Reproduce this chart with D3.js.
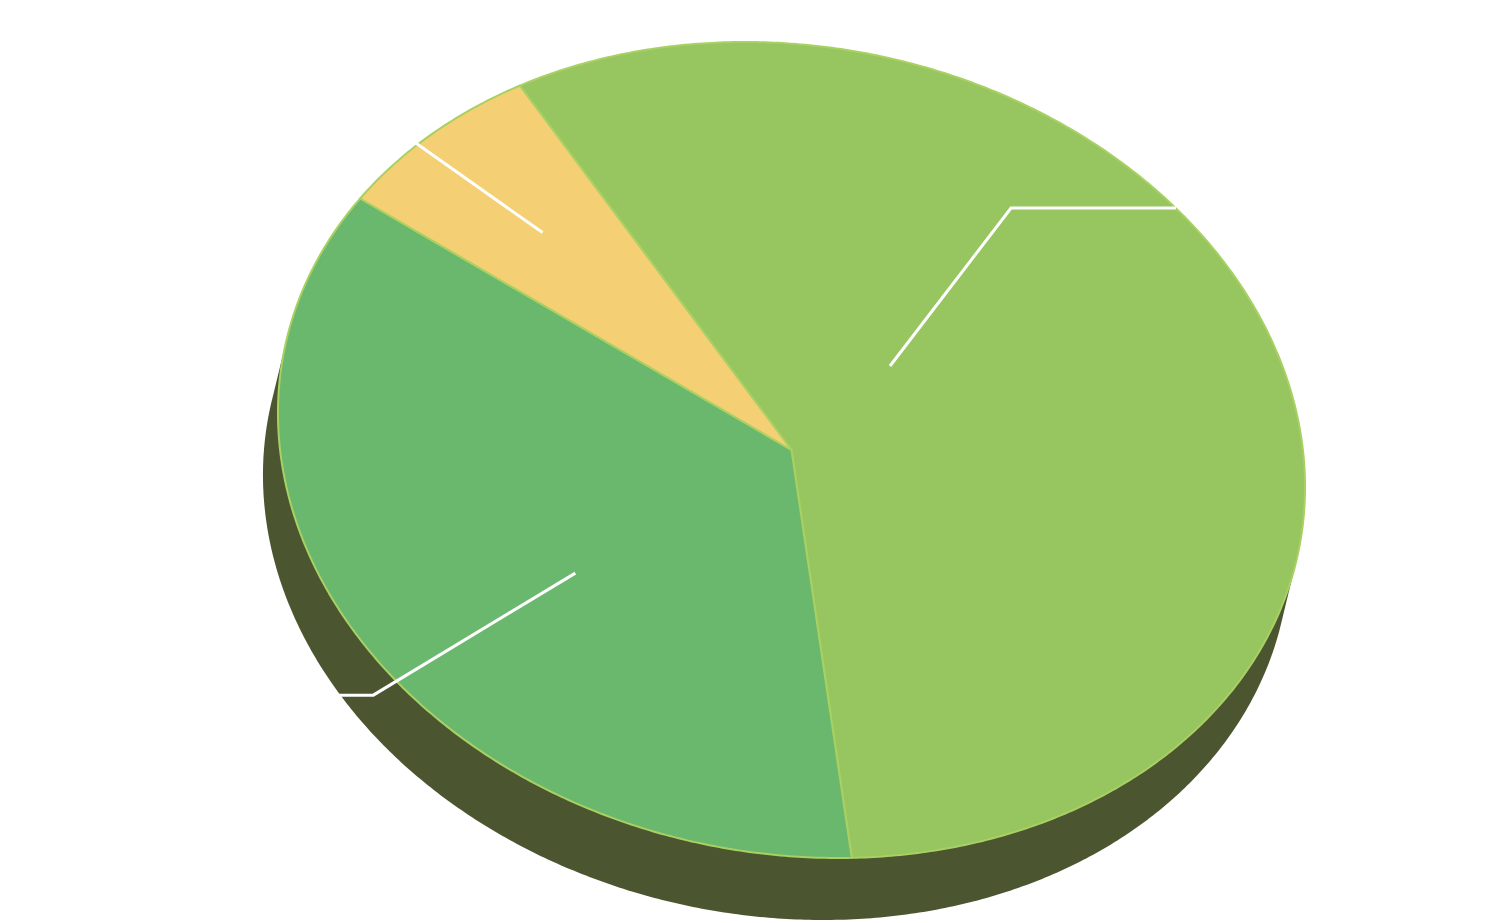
<!DOCTYPE html>
<html>
<head>
<meta charset="utf-8">
<script src="https://cdn.jsdelivr.net/npm/d3@7"></script>
<style>
  html, body { margin: 0; padding: 0; background: #ffffff; }
  svg { display: block; }
</style>
</head>
<body>
<svg id="chart" width="1491" height="923"></svg>
<script>
// ---- data ----
const categories = ["Segment A", "Segment B", "Segment C"];
const values = [57, 36, 7];
const colors = ["#97c560", "#6ab86e", "#f5cf73"];

// ---- layout ----
const W = 1491, H = 923;
const cx = 791.5, cy = 450;          // centre of top face
const rx = 517, ry = 403.6;          // ellipse semi-axes
const tilt = 10.66 * Math.PI / 180;  // rotation of ellipse
const depth = [-15, 62];             // extrusion offset
const startDeg = -40.3;

const svg = d3.select("#chart");

function proj(t, r = 1, off = [0, 0]) {
  const x = rx * r * Math.sin(t), y = -ry * r * Math.cos(t);
  const c = Math.cos(tilt), s = Math.sin(tilt);
  return [cx + x * c - y * s + off[0], cy + x * s + y * c + off[1]];
}

const pie = d3.pie().sort(null).value(d => d)
  .startAngle(startDeg * Math.PI / 180)
  .endAngle(startDeg * Math.PI / 180 + 2 * Math.PI);
const arcs = pie(values);

// ---- side (extrusion) ----
const ring = d3.range(0, 720).map(i => i / 720 * 2 * Math.PI);
const allPts = ring.map(t => proj(t)).concat(ring.map(t => proj(t, 1, depth)));
const hull = d3.polygonHull(allPts);
svg.append("path")
  .attr("d", "M" + hull.map(p => p.join(",")).join("L") + "Z")
  .attr("fill", "#4b5631");

// ---- top face slices ----
const line = d3.line();
svg.append("g").selectAll("path")
  .data(arcs)
  .join("path")
  .attr("d", d => {
    const n = Math.max(8, Math.ceil((d.endAngle - d.startAngle) / (Math.PI / 360)));
    const pts = [[cx, cy]];
    for (let i = 0; i <= n; i++) {
      pts.push(proj(d.startAngle + (d.endAngle - d.startAngle) * i / n));
    }
    return line(pts) + "Z";
  })
  .attr("fill", (d, i) => colors[i])
  .attr("stroke", "#a9d062")
  .attr("stroke-width", 2)
  .attr("stroke-linejoin", "round");

// ---- leader lines & labels (white) ----
// anchor on face: [angle deg, radius fraction]; then elbow offsets
const anchors = [[32.2, 0.295], [222.6, 0.542], [307, 0.69]];
const elbows = [[121, -158], [-202, 122], [-160, -113]];
const tails = [165, -140, -95];
const labelPos = [[10, -22, "start"], [-10, 6, "end"], [-10, 6, "end"]];

const total = d3.sum(values);
const g = svg.append("g");
arcs.forEach((d, i) => {
  const p0 = proj(anchors[i][0] * Math.PI / 180, anchors[i][1]);
  const p1 = [p0[0] + elbows[i][0], p0[1] + elbows[i][1]];
  const p2 = [p1[0] + tails[i], p1[1]];
  g.append("path")
    .attr("d", line([p0, p1, p2]))
    .attr("fill", "none")
    .attr("stroke", "#ffffff")
    .attr("stroke-width", 3);
  g.append("text")
    .attr("x", p2[0] + labelPos[i][0])
    .attr("y", p2[1] + labelPos[i][1])
    .attr("text-anchor", labelPos[i][2])
    .attr("font-family", "Liberation Sans, Arial, sans-serif")
    .attr("font-size", 20)
    .attr("fill", "#ffffff")
    .text(categories[i] + " " + Math.round(d.data / total * 100) + "%");
});
</script>
</body>
</html>
